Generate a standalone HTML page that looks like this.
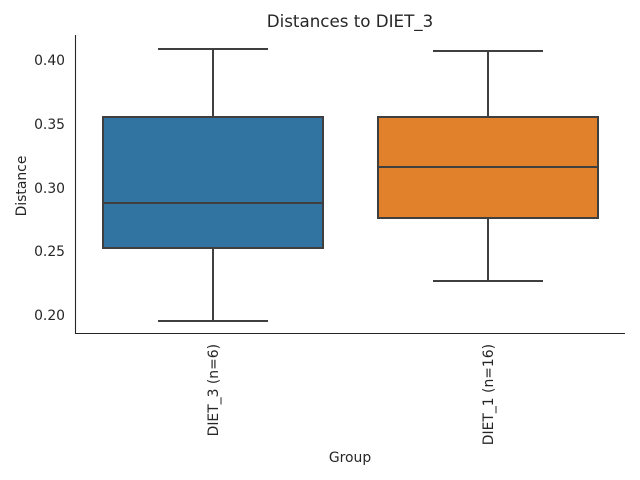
<!DOCTYPE html>
<html><head><meta charset="utf-8"><style>body{margin:0;background:#fff}svg{display:block}</style></head>
<body>
<svg width="640" height="480" xmlns="http://www.w3.org/2000/svg" font-family="DejaVu Sans, Liberation Sans, sans-serif" fill="#262626">
<text x="350" y="27" font-size="16.7" text-anchor="middle">Distances to DIET_3</text>
<g stroke="#262626" stroke-width="1.1"><line x1="75.5" y1="35" x2="75.5" y2="334"/><line x1="75" y1="333.5" x2="625" y2="333.5"/></g>
<g font-size="13.9" text-anchor="end">
<text x="65" y="65">0.40</text><text x="65" y="129">0.35</text><text x="65" y="193">0.30</text><text x="65" y="256">0.25</text><text x="65" y="320">0.20</text>
</g>
<text transform="translate(26,186) rotate(-90)" font-size="13.9" text-anchor="middle">Distance</text>
<text x="350" y="462" font-size="13.9" text-anchor="middle">Group</text>
<text transform="translate(218,344) rotate(-90)" font-size="13.9" text-anchor="end">DIET_3 (n=6)</text>
<text transform="translate(493,344) rotate(-90)" font-size="13.9" text-anchor="end">DIET_1 (n=16)</text>
<g stroke="#3f3f3f" stroke-width="2">
<line x1="213" y1="49" x2="213" y2="117"/><line x1="213" y1="248" x2="213" y2="321"/>
<line x1="158" y1="49" x2="268" y2="49"/><line x1="158" y1="321" x2="268" y2="321"/>
<rect x="103" y="117" width="220" height="131" fill="#3274a1"/>
<line x1="103" y1="203" x2="323" y2="203"/>
<line x1="488" y1="51" x2="488" y2="117"/><line x1="488" y1="218" x2="488" y2="281"/>
<line x1="433" y1="51" x2="543" y2="51"/><line x1="433" y1="281" x2="543" y2="281"/>
<rect x="378" y="117" width="220" height="101" fill="#e1812c"/>
<line x1="378" y1="167" x2="598" y2="167"/>
</g>
</svg>
</body></html>
